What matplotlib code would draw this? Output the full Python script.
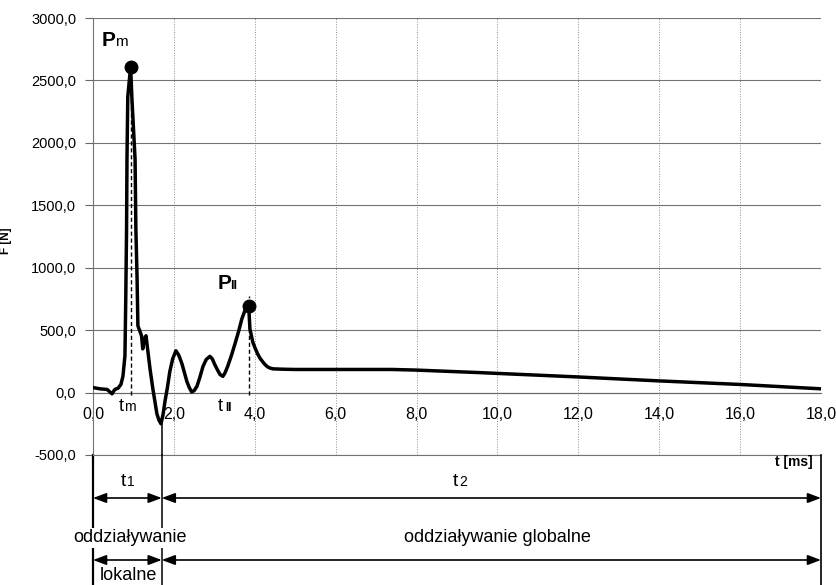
import matplotlib.pyplot as plt
import matplotlib.transforms as mtransforms

plt.rcParams['font.family'] = ['Liberation Sans', 'DejaVu Sans']

# force history: time [ms], force [N]
t = [0.00, 0.17, 0.35, 0.47, 0.54, 0.62, 0.69, 0.74, 0.79, 0.81, 0.83, 0.84,
     0.86, 0.93, 0.96, 1.04, 1.06, 1.09, 1.11, 1.20, 1.23, 1.27, 1.31, 1.41,
     1.48, 1.53, 1.58, 1.63, 1.68, 1.73, 1.78, 1.84, 1.90, 1.97, 2.05, 2.12,
     2.20, 2.26, 2.32, 2.38, 2.44, 2.50, 2.57, 2.64, 2.72, 2.80, 2.89, 2.95,
     3.01, 3.08, 3.14, 3.21, 3.26, 3.33, 3.42, 3.51, 3.60, 3.68, 3.76, 3.85,
     3.88, 3.95, 4.01, 4.07, 4.13, 4.20, 4.26, 4.32, 4.38, 4.45, 4.7, 5.0,
     6.0, 7.4, 8.0, 9.55, 12.0, 13.9, 16.0, 18.0]
F = [40, 30, 25, -10, 25, 35, 65, 130, 295, 750, 1310, 1870,
     2370, 2610, 2370, 1870, 1310, 910, 535, 455, 350, 430, 455, 190,
     30, -70, -170, -220, -250, -180, -70, 40, 170, 270, 335, 300,
     230, 160, 90, 40, 5, 15, 50, 120, 210, 265, 290, 270,
     225, 180, 145, 130, 155, 210, 295, 390, 490, 590, 660, 690,
     510, 405, 355, 310, 275, 245, 222, 205, 196, 190, 187, 185,
     185, 185, 180, 160, 125, 95, 65, 30]

t_m, P_m = 0.93, 2610
t_II, P_II = 3.85, 690
t1_end = 1.70
t_end = 18.0

x_ticks = [0, 2, 4, 6, 8, 10, 12, 14, 16, 18]
y_ticks = [-500, 0, 500, 1000, 1500, 2000, 2500, 3000]

fig = plt.figure(figsize=(8.37, 5.85), dpi=100)
ax = fig.add_axes([93 / 837, 1 - 455 / 585, 728 / 837, 437 / 585])

ax.plot(t, F, color='black', lw=2.5, solid_joinstyle='round', zorder=5)
ax.plot([t_m, t_II], [P_m, P_II], 'o', color='black', ms=9, zorder=6)
ax.plot([t_m, t_m], [-20, 2350], ls=(0, (3, 2)), color='black', lw=1.0, zorder=7)
ax.plot([t_II, t_II], [-20, 770], ls=(0, (3, 2)), color='black', lw=1.0, zorder=7)

ax.set_xlim(0, 18)
ax.set_ylim(-500, 3000)
ax.set_xticks(x_ticks)
ax.set_yticks(y_ticks)
ax.set_xticklabels([f'{v:.1f}'.replace('.', ',') for v in x_ticks])
ax.set_yticklabels([f'{v:.1f}'.replace('.', ',') for v in y_ticks])
ax.tick_params(axis='x', length=0, pad=10.5, labelsize=11.5)
ax.tick_params(axis='y', length=6, width=0.8, color='0.4', pad=6, labelsize=10.5)

ax.spines['bottom'].set_position(('data', 0))
ax.spines['bottom'].set_color('0.4')
ax.spines['left'].set_color('0.45')
ax.spines['top'].set_visible(False)
ax.spines['right'].set_visible(False)
ax.grid(axis='y', color='0.45', lw=0.8)
ax.grid(axis='x', color='0.55', lw=0.7, ls=':')
ax.axhline(-500, color='0.45', lw=0.8, clip_on=False, zorder=1)
ax.set_axisbelow(True)

ax.set_ylabel('F [N]', fontsize=8.5, fontweight='bold')
ax.yaxis.set_label_coords(-0.111, 0.49)

# peak labels
ax.text(0.22, 2772, 'P', fontsize=15, fontweight='bold', va='baseline')
ax.text(0.54, 2772, 'm', fontsize=11, va='baseline')
ax.text(3.08, 830, 'P', fontsize=15, fontweight='bold', va='baseline')
ax.text(3.40, 830, 'II', fontsize=9, fontweight='bold', va='baseline')
ax.text(0.64, -144, 't', fontsize=13, va='baseline')
ax.text(0.78, -144, 'm', fontsize=10, va='baseline')
ax.text(3.09, -144, 't', fontsize=13, va='baseline')
ax.text(3.27, -144, 'II', fontsize=8.5, fontweight='bold', va='baseline')

# phase bars under the plot
tr = mtransforms.blended_transform_factory(ax.transData, fig.transFigure)


def fy(px):
    return 1 - px / 585


ax.plot([t1_end, t1_end], [-250, -500], color='black', lw=1.1, zorder=6)
for x, lw in [(0, 1.6), (t1_end, 1.1), (t_end, 1.2)]:
    ax.plot([x, x], [fy(455), 0], color='black', lw=lw, transform=tr, clip_on=False)

arrow = dict(arrowstyle='<|-|>,head_length=0.8,head_width=0.3', color='black',
             lw=1.2, shrinkA=0, shrinkB=0)
for y in [fy(498), fy(560)]:
    ax.annotate('', xy=(t1_end, y), xytext=(0, y), xycoords=tr, textcoords=tr, arrowprops=arrow)
    ax.annotate('', xy=(t_end, y), xytext=(t1_end, y), xycoords=tr, textcoords=tr, arrowprops=arrow)

ax.text(0.68, fy(486), 't', fontsize=14, transform=tr, va='baseline')
ax.text(0.83, fy(486), '1', fontsize=10, transform=tr, va='baseline')
ax.text(8.9, fy(486), 't', fontsize=14, transform=tr, va='baseline')
ax.text(9.05, fy(486), '2', fontsize=10, transform=tr, va='baseline')
ax.text(17.8, fy(462), 't [ms]', fontsize=10, fontweight='bold', transform=tr,
        ha='right', va='center')
ax.text(0.92, fy(538), 'oddziaływanie', fontsize=13, transform=tr, ha='center', va='center',
        bbox=dict(facecolor='white', edgecolor='none', pad=1), zorder=10)
ax.text(0.88, fy(576), 'lokalne', fontsize=13, transform=tr, ha='center', va='center')
ax.text(10.0, fy(538), 'oddziaływanie globalne', fontsize=13, transform=tr,
        ha='center', va='center')

fig.savefig('out.png', dpi=100)
